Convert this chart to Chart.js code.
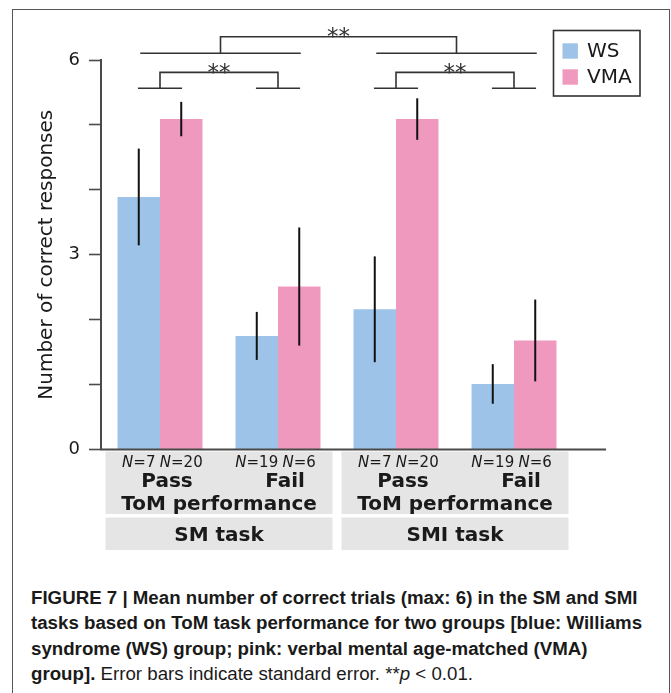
<!DOCTYPE html>
<html>
<head>
<meta charset="utf-8">
<script src="https://cdn.jsdelivr.net/npm/chart.js@4.4.1/dist/chart.umd.min.js"></script>
<style>
  html, body { margin: 0; padding: 0; background: #fff; }
  body { width: 671px; height: 693px; position: relative; overflow: hidden; }
  #frame { position: absolute; left: 12px; top: 9px; width: 658px; height: 720px;
           border: 1.5px solid #555; box-sizing: border-box; }
  #wrap { position: absolute; left: 0; top: 0; width: 671px; height: 560px; }
  #caption { position: absolute; left: 31px; top: 585px; color: #1a1a1a;
             font-family: "Liberation Sans", Arial, sans-serif; font-size: 18.7px;
             line-height: 25.3px; white-space: nowrap; }
</style>
</head>
<body>
<div id="frame"></div>
<div id="wrap"><canvas id="chart"></canvas></div>
<div id="caption"><b>FIGURE 7 | Mean number of correct trials (max: 6) in the SM and SMI<br>tasks based on ToM task performance for two groups [blue: Williams<br>syndrome (WS) group; pink: verbal mental age-matched (VMA)<br>group].</b> Error bars indicate standard error. **<i>p</i> &lt; 0.01.</div>

<script>
// Conditions: task x ToM outcome
const categories = ['SM / Pass', 'SM / Fail', 'SMI / Pass', 'SMI / Fail'];
const outcomeLabels = ['Pass', 'Fail', 'Pass', 'Fail'];
const taskLabels = ['SM task', 'SMI task'];
const groupTitle = 'ToM performance';

// Williams syndrome group
const wsMeans = [3.89, 1.75, 2.16, 1.01];
const wsErrors = [0.745, 0.37, 0.815, 0.305];
const wsCounts = ['7', '19', '7', '19'];

// Verbal mental age-matched group
const vmaMeans = [5.09, 2.51, 5.09, 1.68];
const vmaErrors = [0.265, 0.91, 0.32, 0.63];
const vmaCounts = ['20', '6', '20', '6'];

// Labelled y ticks
const yTickLabels = [0, 3, 6];

// Significance brackets (category pairs, then across the two pairs)
const pairBrackets = [[0, 1], [2, 3]];
const sigMark = '**';

const BLUE = '#9dc4e8';
const PINK = '#ef99bf';
const AXIS = '#4a4a4a';
const TEXT = '#1a1a1a';
const SANS = '"DejaVu Sans", Verdana, sans-serif';

function drawNLabel(ctx, cx, baseline, count) {
  const italic = 'italic 15px ' + SANS;
  const upright = '15px ' + SANS;
  ctx.font = italic;
  const wN = ctx.measureText('N').width;
  ctx.font = upright;
  const rest = '=' + count;
  const wR = ctx.measureText(rest).width;
  const left = cx - (wN + wR) / 2;
  ctx.textAlign = 'left';
  ctx.font = italic;
  ctx.fillText('N', left, baseline);
  ctx.font = upright;
  ctx.fillText(rest, left + wN, baseline);
}

const annotate = {
  id: 'annotate',
  afterDatasetsDraw(chart, args, opts) {
    const { ctx, chartArea, scales: { x, y } } = chart;
    const cw = x.getPixelForValue(1) - x.getPixelForValue(0);
    const y0 = y.getPixelForValue(0);
    ctx.save();

    // category label panels under the axis
    ctx.fillStyle = '#e5e5e5';
    taskLabels.forEach((t, k) => {
      const l = x.getPixelForValue(2 * k) - cw / 2 + 4.5;
      const r = x.getPixelForValue(2 * k + 1) + cw / 2 - 4.5;
      ctx.fillRect(l, y0 + 2, r - l, 62.5);
      ctx.fillRect(l, y0 + 68, r - l, 32.5);
    });

    ctx.fillStyle = TEXT;
    ctx.textBaseline = 'alphabetic';
    const wsMeta = chart.getDatasetMeta(0);
    const vmaMeta = chart.getDatasetMeta(1);
    categories.forEach((c, i) => {
      drawNLabel(ctx, wsMeta.data[i].x, y0 + 17, wsCounts[i]);
      drawNLabel(ctx, vmaMeta.data[i].x, y0 + 17, vmaCounts[i]);
      ctx.font = 'bold 20px ' + SANS;
      ctx.textAlign = 'center';
      ctx.fillText(outcomeLabels[i], x.getPixelForValue(i) + 7, y0 + 37.5);
    });
    taskLabels.forEach((t, k) => {
      const mid = (x.getPixelForValue(2 * k) + x.getPixelForValue(2 * k + 1)) / 2;
      ctx.font = 'bold 20px ' + SANS;
      ctx.textAlign = 'center';
      ctx.fillText(groupTitle, mid, y0 + 60.5);
      ctx.fillText(t, mid, y0 + 91);
    });

    // x axis line
    ctx.strokeStyle = AXIS;
    ctx.lineWidth = 2;
    ctx.beginPath();
    ctx.moveTo(chartArea.left - 1, y0);
    ctx.lineTo(chartArea.right + 0.28 * cw, y0);
    ctx.stroke();

    // error bars (standard error)
    ctx.strokeStyle = '#111';
    ctx.lineWidth = 2;
    chart.data.datasets.forEach((ds, di) => {
      chart.getDatasetMeta(di).data.forEach((bar, i) => {
        const m = ds.data[i], e = ds.errors[i];
        ctx.beginPath();
        ctx.moveTo(bar.x, y.getPixelForValue(m + e));
        ctx.lineTo(bar.x, y.getPixelForValue(m - e));
        ctx.stroke();
      });
    });

    // significance brackets
    ctx.strokeStyle = '#333';
    ctx.lineWidth = 1.6;
    ctx.fillStyle = '#333';
    ctx.font = '23px ' + SANS;
    ctx.textAlign = 'center';
    const stub = 0.187 * cw;
    const star = (cx, lineY) => ctx.fillText(sigMark, cx, lineY + 7.5);
    const mids = [];
    pairBrackets.forEach(([a, b]) => {
      const xa = x.getPixelForValue(a), xb = x.getPixelForValue(b);
      const low = y.getPixelForValue(opts.pairLow);
      const high = y.getPixelForValue(opts.pairHigh);
      ctx.beginPath();
      ctx.moveTo(xa - stub, low); ctx.lineTo(xa + stub, low);
      ctx.moveTo(xb - stub, low); ctx.lineTo(xb + stub, low);
      ctx.moveTo(xa, low); ctx.lineTo(xa, high); ctx.lineTo(xb, high); ctx.lineTo(xb, low);
      ctx.stroke();
      star((xa + xb) / 2, high);
      mids.push((xa + xb) / 2 + 1.5);
    });
    const oLow = y.getPixelForValue(opts.outerLow);
    const oHigh = y.getPixelForValue(opts.outerHigh);
    const span = 0.68 * cw;
    ctx.beginPath();
    mids.forEach(m => { ctx.moveTo(m - span, oLow); ctx.lineTo(m + span, oLow); });
    ctx.moveTo(mids[0], oLow); ctx.lineTo(mids[0], oHigh);
    ctx.lineTo(mids[1], oHigh); ctx.lineTo(mids[1], oLow);
    ctx.stroke();
    star((mids[0] + mids[1]) / 2, oHigh);

    // legend
    const lg = opts.legendBox;
    ctx.strokeStyle = '#333';
    ctx.lineWidth = 1.6;
    ctx.strokeRect(lg.left, lg.top, lg.width, lg.height);
    ctx.font = '20px ' + SANS;
    ctx.textAlign = 'left';
    ctx.textBaseline = 'middle';
    chart.data.datasets.forEach((ds, di) => {
      const cy = lg.top + 20.5 + di * 26;
      ctx.fillStyle = ds.backgroundColor;
      ctx.fillRect(lg.left + 9, cy - 7.7, 15.4, 15.4);
      ctx.fillStyle = TEXT;
      ctx.fillText(ds.label, lg.left + 33.5, cy + 1);
    });
    ctx.restore();
  }
};

new Chart(document.getElementById('chart'), {
  type: 'bar',
  data: {
    labels: categories,
    datasets: [
      { label: 'WS', data: wsMeans, errors: wsErrors, backgroundColor: BLUE,
        categoryPercentage: 0.72, barPercentage: 1.0 },
      { label: 'VMA', data: vmaMeans, errors: vmaErrors, backgroundColor: PINK,
        categoryPercentage: 0.72, barPercentage: 1.0 }
    ]
  },
  options: {
    responsive: true,
    maintainAspectRatio: false,
    animation: false,
    layout: { padding: { left: 0, top: 60, right: 98, bottom: 110.5 } },
    plugins: {
      legend: { display: false },
      tooltip: { enabled: false },
      annotate: {
        pairLow: 5.564, pairHigh: 5.81, outerLow: 6.103, outerHigh: 6.359,
        legendBox: { left: 553.5, top: 30.5, width: 86.5, height: 65.5 }
      }
    },
    scales: {
      x: { display: false },
      y: {
        min: 0, max: 6,
        afterFit(scale) { scale.width = 101; },
        border: { display: true, color: AXIS, width: 2 },
        grid: { drawOnChartArea: false, drawTicks: true, tickLength: 12,
                tickColor: AXIS, tickWidth: 1.6 },
        ticks: {
          stepSize: 1, padding: 9, color: TEXT,
          font: { family: SANS, size: 18 },
          callback: v => yTickLabels.includes(v) ? String(v) : ''
        },
        title: {
          display: true, text: 'Number of correct responses', color: TEXT,
          font: { family: SANS, size: 20 }, padding: { top: 35, bottom: 0 }
        }
      }
    }
  },
  plugins: [annotate]
});
</script>
</body>
</html>
